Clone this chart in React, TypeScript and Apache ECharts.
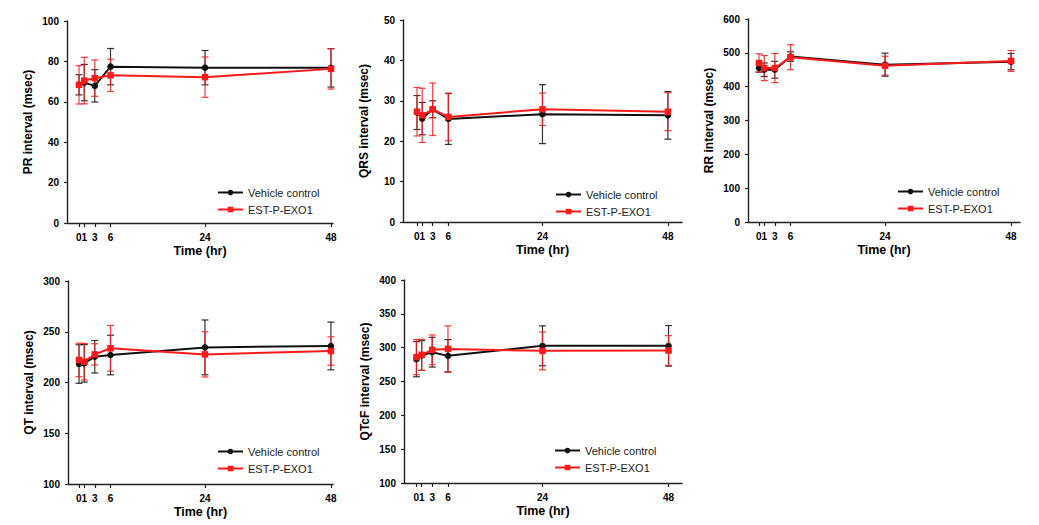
import React, { useEffect, useRef } from "react";
import * as echarts from "echarts";

const HOURS = [0, 1, 3, 6, 24, 48];
// "0" and "1" print as one glued "01" label in the reference
const HOUR_LABEL_VALUES = [0, 3, 6, 24, 48];
const SERIES_NAMES = ["Vehicle control", "EST-P-EXO1"];

const PR_VEH = [68.4, 69.5, 67.9, 77.4, 76.9, 76.8];
const PR_VEH_ERR = [5, 9, 8, 9, 8.5, 9.5];
const PR_EXO = [68.4, 70.5, 71.7, 73.1, 72.2, 76.3];
const PR_EXO_ERR = [9.5, 11.5, 9, 8, 10, 10];

const QRS_VEH = [27.1, 25.6, 27.9, 25.5, 26.7, 26.4];
const QRS_VEH_ERR = [4.2, 4, 2.1, 6.3, 7.3, 5.9];
const QRS_EXO = [27.3, 26.4, 27.9, 26, 27.9, 27.3];
const QRS_EXO_ERR = [6, 6.7, 6.5, 5.9, 4, 4.7];

const RR_VEH = [455, 450, 450, 489, 465, 474];
const RR_VEH_ERR = [12, 20, 25, 14, 34, 24];
const RR_EXO = [470, 455, 455, 487, 462, 476];
const RR_EXO_ERR = [27, 37, 43, 37, 28, 31];

const QT_VEH = [218.2, 218.9, 225.4, 227.1, 234.6, 236];
const QT_VEH_ERR = [19, 18.5, 16, 19.5, 27, 23.5];
const QT_EXO = [222.2, 220.5, 227.7, 233.7, 227.7, 231];
const QT_EXO_ERR = [16.5, 18, 10.5, 22.5, 22.3, 14];

const QTCF_VEH = [283, 288.4, 293.3, 287.9, 302.7, 302.7];
const QTCF_VEH_ERR = [26, 22, 22, 24, 29.5, 30];
const QTCF_EXO = [286, 289.4, 296.8, 298.2, 295.3, 295.8];
const QTCF_EXO_ERR = [26, 23, 22, 34, 28, 22];

const Y_TITLES = [
  "PR interval (msec)",
  "QRS interval (msec)",
  "RR interval (msec)",
  "QT interval (msec)",
  "QTcF interval (msec)",
];
const Y_RANGES = [
  [0, 100, 20],
  [0, 50, 10],
  [0, 600, 100],
  [100, 300, 50],
  [100, 400, 50],
];
const X_TITLE = "Time (hr)";

const PANEL_DATA = [
  [PR_VEH, PR_VEH_ERR, PR_EXO, PR_EXO_ERR],
  [QRS_VEH, QRS_VEH_ERR, QRS_EXO, QRS_EXO_ERR],
  [RR_VEH, RR_VEH_ERR, RR_EXO, RR_EXO_ERR],
  [QT_VEH, QT_VEH_ERR, QT_EXO, QT_EXO_ERR],
  [QTCF_VEH, QTCF_VEH_ERR, QTCF_EXO, QTCF_EXO_ERR],
];

// layout (pixels)
const GRIDS = [
  { left: 67, top: 21, width: 266, height: 202 },
  { left: 403, top: 20, width: 279, height: 202 },
  { left: 748, top: 19, width: 272, height: 203 },
  { left: 68, top: 281, width: 265, height: 203 },
  { left: 404, top: 280, width: 278, height: 203 },
];
const X_EXTENTS = [
  [-2.29, 48.38],
  [-2.68, 50.7],
  [-2.1, 49.7],
  [-2.1, 48.4],
  [-2.37, 50.56],
];
const LEGEND_POS = [
  { left: 217, top: 187 },
  { left: 555, top: 189 },
  { left: 897, top: 186 },
  { left: 217, top: 446 },
  { left: 554, top: 445 },
];

const BLACK = "#111111";
const RED = "#ff1a1a";
const FONT = "'Liberation Sans', Arial, sans-serif";

function makeErrRender(color: string) {
  return (params: any, api: any) => {
    const x = api.value(0);
    const lo = api.value(1);
    const hi = api.value(2);
    const p1 = api.coord([x, hi]);
    const p2 = api.coord([x, lo]);
    const w = 3.5;
    const style = { stroke: color, lineWidth: 1.2, opacity: 0.85 };
    return {
      type: "group",
      children: [
        { type: "line", shape: { x1: p1[0], y1: p1[1], x2: p2[0], y2: p2[1] }, style },
        { type: "line", shape: { x1: p1[0] - w, y1: p1[1], x2: p1[0] + w, y2: p1[1] }, style },
        { type: "line", shape: { x1: p2[0] - w, y1: p2[1], x2: p2[0] + w, y2: p2[1] }, style },
      ],
    };
  };
}

export default function App() {
  const ref = useRef<HTMLDivElement>(null);
  useEffect(() => {
    if (!ref.current) return;
    const chart = echarts.init(ref.current, undefined, { renderer: "svg" });

    const labelText = { fontFamily: FONT, fontWeight: "bold", fontSize: 10, color: "#000" };

    const grid = GRIDS.map((g) => ({ ...g, containLabel: false }));
    const xAxis = GRIDS.map((_, i) => ({
      type: "value",
      gridIndex: i,
      min: X_EXTENTS[i][0],
      max: X_EXTENTS[i][1],
      name: X_TITLE,
      nameLocation: "middle",
      nameGap: 21,
      nameTextStyle: { fontFamily: FONT, fontWeight: "bold", fontSize: 12.5, color: "#000" },
      splitLine: { show: false },
      axisLine: { show: true, onZero: false, lineStyle: { color: "#222", width: 1.4 } },
      axisTick: { show: true, customValues: HOURS, length: 4, lineStyle: { color: "#222", width: 1.2 } },
      axisLabel: {
        customValues: HOUR_LABEL_VALUES,
        margin: 9,
        ...labelText,
        hideOverlap: false,
        showMinLabel: true,
        showMaxLabel: true,
        formatter: (v: number) => (v === 0 ? "{g|" + HOURS[0] + HOURS[1] + "}" : String(v)),
        rich: { g: { ...labelText, padding: [0, 0, 0, 5] } },
      },
    }));
    const yAxis = GRIDS.map((_, i) => ({
      type: "value",
      gridIndex: i,
      min: Y_RANGES[i][0],
      max: Y_RANGES[i][1],
      interval: Y_RANGES[i][2],
      name: Y_TITLES[i],
      nameLocation: "middle",
      nameGap: 33,
      nameTextStyle: { fontFamily: FONT, fontWeight: "bold", fontSize: 12, color: "#000" },
      splitLine: { show: false },
      axisLine: { show: true, onZero: false, lineStyle: { color: "#222", width: 1.4 } },
      axisTick: { show: true, length: 3, lineStyle: { color: "#222", width: 1.2 } },
      axisLabel: {
        margin: 8,
        ...labelText,
        showMinLabel: true,
        showMaxLabel: true,
      },
    }));

    const series: any[] = [];
    PANEL_DATA.forEach((d, i) => {
      const [veh, vehErr, exo, exoErr] = d;
      series.push({
        name: "err-veh",
        type: "custom",
        xAxisIndex: i,
        yAxisIndex: i,
        renderItem: makeErrRender(BLACK),
        encode: { x: 0, y: [1, 2] },
        data: HOURS.map((h, k) => [h, veh[k] - vehErr[k], veh[k] + vehErr[k]]),
        z: 2,
      });
      series.push({
        name: "err-exo",
        type: "custom",
        xAxisIndex: i,
        yAxisIndex: i,
        renderItem: makeErrRender(RED),
        encode: { x: 0, y: [1, 2] },
        data: HOURS.map((h, k) => [h, exo[k] - exoErr[k], exo[k] + exoErr[k]]),
        z: 2,
      });
      series.push({
        name: SERIES_NAMES[0],
        type: "line",
        xAxisIndex: i,
        yAxisIndex: i,
        data: HOURS.map((h, k) => [h, veh[k]]),
        symbol: "circle",
        symbolSize: 6.5,
        itemStyle: { color: BLACK },
        lineStyle: { color: BLACK, width: 2 },
        z: 3,
      });
      series.push({
        name: SERIES_NAMES[1],
        type: "line",
        xAxisIndex: i,
        yAxisIndex: i,
        data: HOURS.map((h, k) => [h, exo[k]]),
        symbol: "rect",
        symbolSize: 6.5,
        itemStyle: { color: RED },
        lineStyle: { color: RED, width: 2 },
        z: 4,
      });
    });

    const legend = LEGEND_POS.map((p) => ({
      data: SERIES_NAMES,
      orient: "vertical",
      left: p.left,
      top: p.top,
      itemWidth: 25,
      itemHeight: 7,
      itemGap: 6,
      padding: 0,
      textStyle: { fontFamily: FONT, fontSize: 11, color: "#222" },
      selectedMode: false,
    }));

    chart.setOption({
      animation: false,
      backgroundColor: "#ffffff",
      grid,
      xAxis,
      yAxis,
      legend,
      series,
    });
    return () => chart.dispose();
  }, []);

  return (
    <div
      ref={ref}
      style={{ position: "fixed", left: 0, top: 0, width: 1039, height: 525 }}
    />
  );
}
